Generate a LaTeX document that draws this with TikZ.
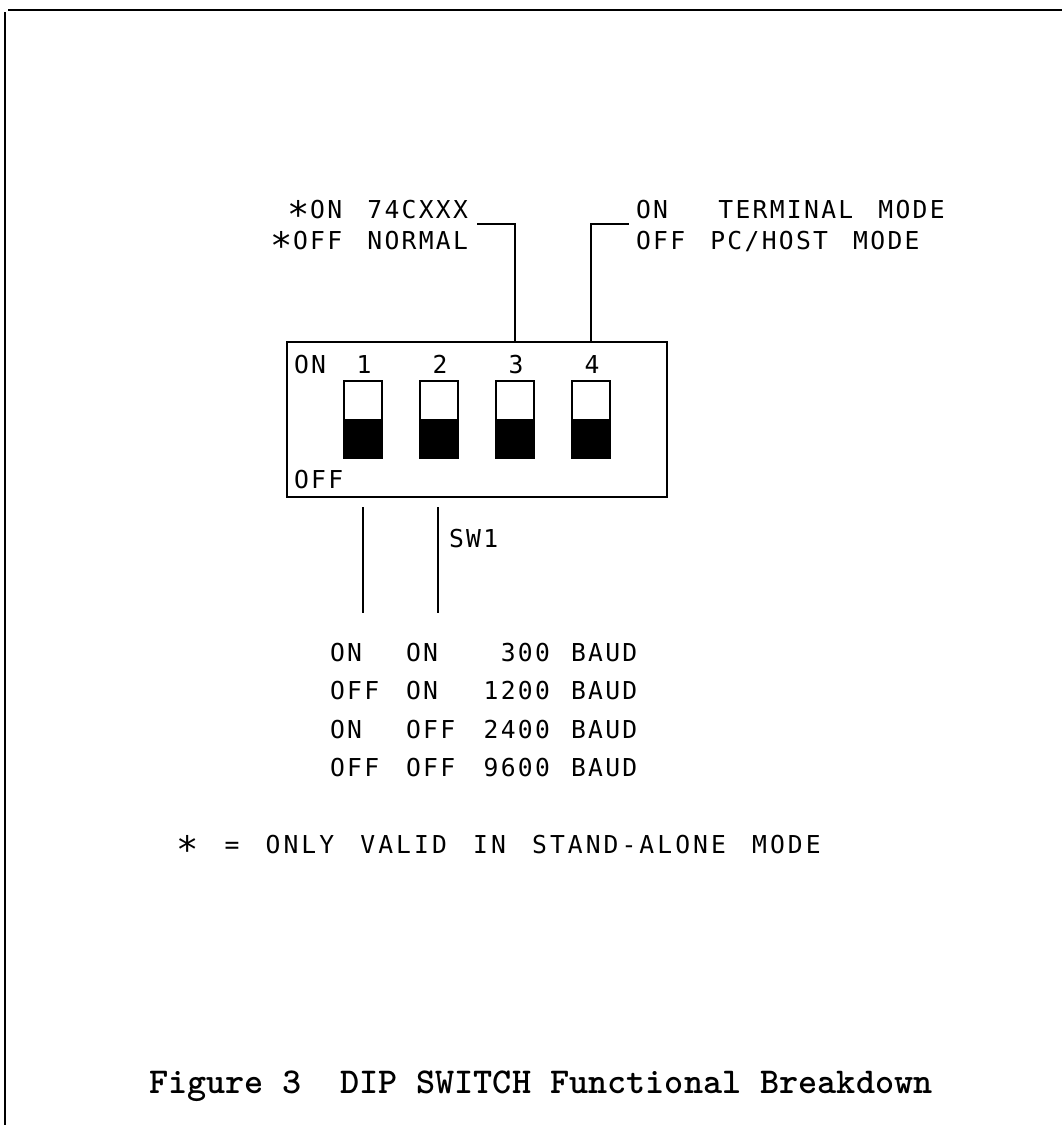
\documentclass[tikz,border=0pt]{standalone}
\usepackage{fontspec}
\newfontfamily\cadfont[LetterSpace=9.3,WordSpace=1.47]{DejaVu Sans Mono}
\newfontfamily\cadwide[LetterSpace=12.3,WordSpace=1.47]{DejaVu Sans Mono}
\newcommand{\cadstar}{\raisebox{-0.12em}{\scalebox{1.5}{∗}}}
\begin{document}
\begin{tikzpicture}[x=0.75pt,y=-0.75pt,
  cad/.style={font=\cadfont\fontsize{18.5}{22}\selectfont, inner sep=0pt, outer sep=0pt},
  cadw/.style={font=\cadwide\fontsize{18.5}{22}\selectfont, inner sep=0pt, outer sep=0pt},
  caption/.style={font=\ttfamily\bfseries\fontsize{27.3}{32}\selectfont, inner sep=0pt, outer sep=0pt},
  lead/.style={line width=1.4pt},
  frame/.style={line width=1.6pt},
  swbox/.style={draw, line width=1.4pt, minimum width=380*0.75pt, minimum height=155*0.75pt, inner sep=0pt},
  swup/.style={draw, line width=1.3pt, fill=white, minimum width=38*0.75pt, minimum height=39*0.75pt, inner sep=0pt},
  swdn/.style={draw, line width=1.3pt, fill=black, minimum width=38*0.75pt, minimum height=38*0.75pt, inner sep=0pt}
]
\useasboundingbox (0,0) rectangle (1062,1125);
% frame
\coordinate (ftl) at (8,10); \coordinate (ftr) at (1062,10);
\coordinate (fl1) at (5,12); \coordinate (fl2) at (5,1125);
\draw[line width=2.2pt] (ftl) -- (ftr);
\draw[frame] (fl1) -- (fl2);

% switch body
\node[swbox] (sw) at (477,419.5) {};
\foreach \i/\x in {1/363,2/439,3/515,4/591}{
  \node[swup] (s\i u) at (\x,400.5) {};
  \node[swdn] (s\i d) at (\x,439) {};
  \node[cad, anchor=base] (n\i) at (\x+1,373) {\i};
}
\node[cad, anchor=base west] (lon) at (294,373) {ON};
\node[cad, anchor=base west] (loff) at (294,488) {OFF};

% top leaders
\coordinate (c3) at (477,224);
\coordinate (c4) at (629,224);
\draw[lead] (sw.north -| s3u) -- (s3u |- c3) -- (c3);
\draw[lead] (sw.north -| s4u) -- (s4u |- c4) -- (c4);

\node[cad, anchor=base east] (t3a) at (468,218) {\cadstar ON 74CXXX};
\node[cad, anchor=base east] (t3b) at (468,249) {\cadstar OFF NORMAL};
\node[cad, anchor=base west] (t4a) at (636,218) {ON\ \ TERMINAL MODE};
\node[cad, anchor=base west] (t4b) at (636,249) {OFF PC/HOST MODE};

% bottom leaders
\coordinate (b1t) at (363,507); \coordinate (b1b) at (363,613);
\coordinate (b2t) at (438,507); \coordinate (b2b) at (438,613);
\draw[lead] (b1t) -- (b1b);
\draw[lead] (b2t) -- (b2b);
\node[cad, anchor=base west] (sw1) at (449,547) {SW1};

% baud table
\foreach \r/\y/\a/\b/\n in {1/661.7/ON/ON/300, 2/699.3/OFF/ON/1200, 3/738.3/ON/OFF/2400, 4/776.7/OFF/OFF/9600}{
  \node[cad, anchor=base west] (r\r a) at (330,\y) {\a};
  \node[cad, anchor=base west] (r\r b) at (406,\y) {\b};
  \node[cad, anchor=base east] (r\r n) at (550,\y) {\n};
  \node[cad, anchor=base west] (r\r u) at (571,\y) {BAUD};
}

\node[cadw, anchor=base west] (note) at (176,853) {\cadstar{} = ONLY VALID IN STAND-ALONE MODE};

\node[caption, anchor=base west] (cap) at (149,1093) {Figure 3\ \ DIP SWITCH Functional Breakdown};
\end{tikzpicture}
\end{document}
